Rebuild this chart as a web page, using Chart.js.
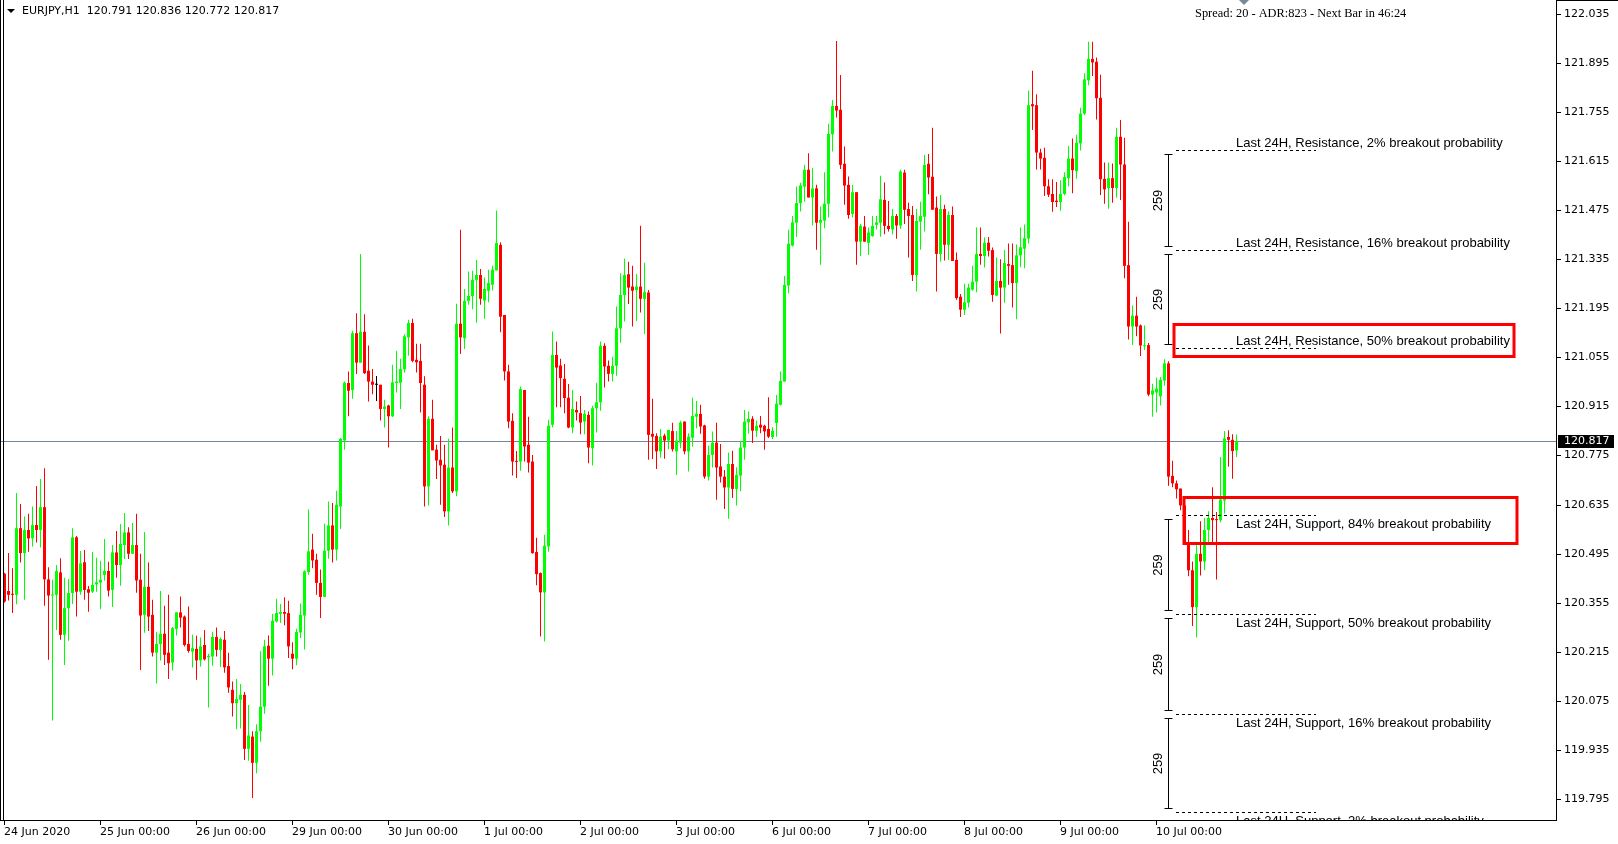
<!DOCTYPE html>
<html>
<head>
<meta charset="utf-8">
<script src="https://cdn.jsdelivr.net/npm/chart.js@4.4.1/dist/chart.umd.min.js"></script>
<style>
html,body{margin:0;padding:0;background:#fff;overflow:hidden}
canvas{display:block}
</style>
</head>
<body>
<canvas id="c" width="1618" height="844"></canvas>
<script>
// ---------------- data ----------------
const symbolTitle = 'EURJPY,H1';
const infoText = 'Spread: 20 - ADR:823 - Next Bar in 46:24';

const opens = [
120.439,120.390,120.382,120.379,120.569,120.498,120.564,120.540,120.578,120.564,
120.629,120.423,120.377,120.379,120.443,120.265,120.341,120.384,120.543,120.388,
120.472,120.395,120.388,120.409,120.414,120.436,120.447,120.393,120.500,120.464,
120.521,120.557,120.496,120.521,120.422,120.322,120.402,120.322,120.214,120.239,
120.268,120.214,120.186,120.282,120.329,120.317,120.239,120.217,120.225,120.192,
120.236,120.201,120.203,120.259,120.222,120.251,120.176,120.108,120.070,120.080,
120.094,119.940,119.975,119.900,119.990,120.060,120.234,120.197,120.303,120.325,
120.330,120.327,120.211,120.197,120.272,120.320,120.444,120.508,120.479,120.413,
120.373,120.505,120.577,120.508,120.631,120.819,120.983,120.963,121.125,121.041,
121.129,121.018,120.987,120.978,120.978,120.909,120.919,120.888,120.983,120.984,
121.022,121.113,121.154,121.049,121.046,120.978,120.688,120.881,120.793,120.764,
120.750,120.617,120.742,120.674,121.152,121.111,121.217,121.231,121.277,121.291,
121.218,121.246,121.263,121.304,121.377,121.177,121.016,120.875,120.761,120.759,
120.963,120.807,120.759,120.501,120.441,120.386,120.517,120.864,121.063,121.033,
120.995,120.941,120.856,120.906,120.897,120.873,120.892,120.797,120.911,120.928,
121.089,121.032,121.009,121.032,121.139,121.234,121.293,121.258,121.248,121.258,
121.223,121.241,120.838,120.832,120.788,120.833,120.819,120.846,120.788,120.813,
120.873,120.788,120.827,120.887,120.895,120.862,120.716,120.778,120.813,120.745,
120.716,120.685,120.752,120.681,120.719,120.799,120.871,120.881,120.847,120.864,
120.861,120.852,120.829,120.869,120.921,120.987,121.261,121.375,121.440,121.496,
121.543,121.591,121.512,121.538,121.440,121.446,121.494,121.692,121.773,121.762,
121.608,121.548,121.465,121.527,121.386,121.429,121.383,121.402,121.434,121.440,
121.505,121.431,121.421,121.459,121.432,121.583,121.479,121.462,121.291,121.443,
121.457,121.608,121.571,121.483,121.351,121.479,121.377,121.462,121.334,121.229,
121.192,121.212,121.249,121.272,121.351,121.345,121.383,121.362,121.232,121.274,
121.255,121.322,121.319,121.268,121.347,121.366,121.395,121.778,121.775,121.640,
121.625,121.544,121.522,121.503,121.499,121.522,121.567,121.623,121.587,121.666,
121.751,121.846,121.907,121.899,121.796,121.565,121.539,121.567,121.539,121.685,
121.606,121.319,121.144,121.175,121.147,121.088,121.091,120.950,120.956,120.945,
120.990,121.039,120.718,120.697,120.682,120.634,120.524,120.449,120.344,120.496,
120.474,120.564,120.598,120.595,120.592,120.648,120.829,120.821,120.791
];
const highs = [
120.442,120.498,120.455,120.669,120.638,120.602,120.610,120.631,120.689,120.709,
120.740,120.458,120.422,120.464,120.483,120.428,120.424,120.569,120.547,120.504,
120.507,120.404,120.501,120.485,120.476,120.538,120.473,120.521,120.561,120.581,
120.612,120.572,120.584,120.610,120.496,120.558,120.471,120.365,120.274,120.390,
120.348,120.379,120.287,120.329,120.374,120.320,120.346,120.265,120.262,120.257,
120.279,120.211,120.274,120.286,120.257,120.276,120.214,120.132,120.139,120.125,
120.102,120.065,119.990,120.010,120.218,120.251,120.263,120.325,120.368,120.353,
120.372,120.362,120.244,120.282,120.354,120.449,120.622,120.553,120.496,120.451,
120.582,120.645,120.641,120.676,120.826,120.987,121.016,121.132,121.182,121.351,
121.179,121.090,121.023,121.003,120.978,120.935,120.921,121.035,121.075,121.052,
121.122,121.163,121.166,121.095,121.095,121.002,120.888,120.935,120.807,120.832,
120.807,120.824,120.856,121.209,121.420,121.251,121.301,121.303,121.334,121.308,
121.284,121.306,121.317,121.475,121.384,121.177,121.035,120.897,120.789,120.973,
120.963,120.887,120.778,120.542,120.443,120.550,120.878,121.130,121.101,121.052,
121.037,120.980,120.963,120.930,120.946,120.906,120.902,120.918,120.984,121.101,
121.096,121.047,121.058,121.201,121.296,121.337,121.329,121.317,121.294,121.431,
121.326,121.248,120.938,120.840,120.852,120.838,120.849,120.870,120.846,120.875,
120.873,120.840,120.941,120.932,120.921,120.864,120.804,120.845,120.870,120.809,
120.735,120.785,120.790,120.743,120.818,120.906,120.902,120.888,120.876,120.889,
120.864,120.942,120.857,120.949,121.016,121.288,121.420,121.459,121.543,121.554,
121.605,121.638,121.597,121.548,121.486,121.584,121.722,121.790,121.958,121.861,
121.657,121.572,121.548,121.527,121.437,121.459,121.426,121.459,121.459,121.574,
121.555,121.502,121.479,121.465,121.591,121.591,121.497,121.488,121.479,121.500,
121.633,121.636,121.711,121.515,121.519,121.491,121.472,121.486,121.355,121.237,
121.266,121.266,121.317,121.426,121.426,121.398,121.399,121.369,121.341,121.336,
121.362,121.381,121.381,121.378,121.426,121.435,121.817,121.873,121.806,121.651,
121.654,121.564,121.564,121.556,121.561,121.584,121.659,121.680,121.691,121.768,
121.866,121.956,121.956,121.911,121.862,121.612,121.612,121.609,121.711,121.733,
121.682,121.443,121.204,121.229,121.150,121.147,121.097,120.981,120.998,121.000,
121.051,121.045,120.761,120.705,120.682,120.639,120.564,120.474,120.530,120.589,
120.598,120.617,120.686,120.615,120.772,120.846,120.848,120.837,120.836
];
const lows = [
120.357,120.363,120.327,120.352,120.471,120.365,120.502,120.517,120.528,120.514,
120.348,120.194,120.021,120.279,120.251,120.179,120.248,120.353,120.317,120.379,
120.365,120.331,120.384,120.388,120.338,120.419,120.374,120.344,120.428,120.405,
120.481,120.481,120.496,120.385,120.165,120.271,120.276,120.203,120.126,120.192,
120.179,120.139,120.163,120.263,120.286,120.232,120.214,120.172,120.137,120.175,
120.192,120.058,120.177,120.203,120.173,120.157,120.100,120.032,119.996,119.998,
119.908,119.906,119.800,119.870,119.960,120.040,120.120,120.149,120.300,120.299,
120.292,120.199,120.167,120.178,120.256,120.223,120.436,120.455,120.379,120.313,
120.373,120.482,120.471,120.477,120.567,120.793,120.888,120.938,121.009,121.041,
121.009,120.930,120.951,120.932,120.876,120.856,120.799,120.886,120.956,120.909,
121.013,121.061,121.042,121.013,120.899,120.631,120.634,120.791,120.709,120.636,
120.601,120.577,120.669,120.660,121.066,121.080,121.206,121.193,121.155,121.206,
121.166,121.213,121.247,121.304,121.128,120.990,120.854,120.719,120.712,120.733,
120.759,120.728,120.496,120.406,120.260,120.246,120.502,120.857,120.914,120.914,
120.897,120.854,120.840,120.876,120.837,120.837,120.754,120.748,120.842,120.904,
120.970,120.987,120.987,121.004,121.098,121.158,121.208,121.144,121.160,121.184,
121.123,120.764,120.766,120.738,120.770,120.767,120.794,120.788,120.721,120.797,
120.780,120.731,120.802,120.854,120.838,120.710,120.705,120.742,120.650,120.699,
120.624,120.596,120.655,120.634,120.674,120.764,120.838,120.812,120.829,120.840,
120.793,120.826,120.823,120.830,120.919,120.987,121.239,121.372,121.399,121.472,
121.500,121.512,121.432,121.363,121.320,121.424,121.455,121.643,121.740,121.593,
121.491,121.451,121.455,121.320,121.345,121.386,121.348,121.400,121.421,121.400,
121.407,121.415,121.407,121.394,121.422,121.436,121.341,121.274,121.244,121.363,
121.415,121.521,121.477,121.244,121.329,121.332,121.334,121.331,121.220,121.171,
121.177,121.198,121.246,121.242,121.320,121.312,121.344,121.215,121.232,121.124,
121.212,121.263,121.198,121.165,121.313,121.310,121.381,121.704,121.592,121.592,
121.516,121.513,121.471,121.485,121.474,121.518,121.544,121.524,121.565,121.646,
121.747,121.832,121.858,121.734,121.519,121.494,121.480,121.497,121.511,121.505,
121.282,121.107,121.091,121.116,121.060,121.077,120.945,120.887,120.899,120.919,
120.975,120.690,120.686,120.654,120.620,120.521,120.432,120.290,120.257,120.434,
120.449,120.524,120.528,120.423,120.586,120.611,120.744,120.710,120.772
];
const closes = [
120.360,120.379,120.379,120.569,120.498,120.564,120.540,120.578,120.564,120.629,
120.423,120.377,120.379,120.447,120.265,120.341,120.384,120.543,120.388,120.469,
120.393,120.385,120.407,120.415,120.422,120.447,120.391,120.500,120.464,120.524,
120.557,120.496,120.521,120.420,120.320,120.402,120.317,120.214,120.239,120.268,
120.208,120.184,120.284,120.329,120.314,120.236,120.219,120.227,120.192,120.232,
120.195,120.205,120.259,120.222,120.253,120.172,120.115,120.070,120.082,120.094,
119.940,119.978,119.900,119.990,120.060,120.232,120.197,120.305,120.327,120.330,
120.325,120.232,120.197,120.273,120.322,120.446,120.503,120.477,120.413,120.373,
120.505,120.577,120.508,120.636,120.824,120.984,120.961,121.125,121.041,121.129,
121.011,120.987,120.978,120.978,120.909,120.916,120.888,120.985,120.987,121.023,
121.116,121.154,121.046,121.042,120.983,120.688,120.881,120.791,120.762,120.748,
120.617,120.742,120.674,121.152,121.113,121.217,121.231,121.277,121.291,121.223,
121.251,121.268,121.306,121.382,121.172,121.016,120.873,120.759,120.758,120.966,
120.802,120.756,120.498,120.438,120.386,120.519,120.861,121.063,121.027,120.997,
120.940,120.856,120.909,120.899,120.870,120.895,120.799,120.911,120.928,121.089,
121.030,121.009,121.032,121.139,121.234,121.291,121.255,121.246,121.258,121.223,
121.242,120.835,120.830,120.788,120.830,120.819,120.849,120.794,120.819,120.870,
120.788,120.830,120.889,120.895,120.859,120.716,120.778,120.813,120.742,120.716,
120.685,120.752,120.681,120.721,120.799,120.873,120.881,120.847,120.861,120.856,
120.845,120.830,120.847,120.924,120.989,121.263,121.380,121.441,121.496,121.546,
121.591,121.512,121.538,121.440,121.448,121.494,121.693,121.773,121.760,121.605,
121.546,121.462,121.527,121.386,121.431,121.386,121.412,121.431,121.441,121.507,
121.431,121.422,121.459,121.432,121.586,121.477,121.459,121.291,121.445,121.459,
121.605,121.569,121.477,121.351,121.479,121.377,121.462,121.331,121.225,121.192,
121.213,121.255,121.272,121.351,121.345,121.383,121.360,121.234,121.274,121.255,
121.325,121.317,121.268,121.347,121.370,121.396,121.775,121.772,121.640,121.623,
121.544,121.520,121.499,121.499,121.522,121.570,121.623,121.590,121.668,121.751,
121.849,121.907,121.897,121.795,121.564,121.535,121.567,121.539,121.685,121.606,
121.317,121.144,121.175,121.144,121.090,121.091,120.950,120.962,120.967,120.992,
121.039,120.716,120.697,120.680,120.634,120.524,120.449,120.344,120.496,120.474,
120.564,120.598,120.592,120.592,120.651,120.825,120.821,120.789,120.817
];

// time axis: bar index of each day start and its label
const dayTickBars = [0, 24, 48, 72, 96, 120, 144, 168, 192, 216, 240, 264, 288];
const dayTickLabels = ['24 Jun 2020','25 Jun 00:00','26 Jun 00:00','29 Jun 00:00','30 Jun 00:00',
  '1 Jul 00:00','2 Jul 00:00','3 Jul 00:00','6 Jul 00:00','7 Jul 00:00','8 Jul 00:00','9 Jul 00:00','10 Jul 00:00'];

// price axis ticks
const priceTicks = [119.795,119.935,120.075,120.215,120.355,120.495,120.635,120.775,
  120.915,121.055,121.195,121.335,121.475,121.615,121.755,121.895,122.035];
const priceMin = 119.737, priceMax = 122.075;
const lastPrice = 120.817;

// breakout-probability levels
const levelPrices = [121.645, 121.362, 121.082, 120.604, 120.322, 120.039, 119.758];
const levelKinds  = ['R', 'R', 'R', 'S', 'S', 'S', 'S'];
const levelLabels = [
  'Last 24H, Resistance, 2% breakout probability',
  'Last 24H, Resistance, 16% breakout probability',
  'Last 24H, Resistance, 50% breakout probability',
  'Last 24H, Support, 84% breakout probability',
  'Last 24H, Support, 50% breakout probability',
  'Last 24H, Support, 16% breakout probability',
  'Last 24H, Support, 2% breakout probability'
];
const rangeLabel = '259';
const boxedLevels = [2, 3];

// ---------------- chart ----------------
const UP = '#00ff00', DOWN = '#ff0000', DOJI = '#000000';
const idx = opens.map((_, i) => i);
const colors = idx.map(i => closes[i] > opens[i] ? UP : (closes[i] < opens[i] ? DOWN : DOJI));

// anchors for the level drawings, in bar units
const levelLineFromBar = 292.875, levelLineToBar = 327.875, levelTextBar = 307.875, bracketBar = 291.0;

const mt4Plugin = {
  id: 'mt4',
  beforeDatasetsDraw(chart) {
    const {ctx, chartArea: a, scales: {y}} = chart;
    const py = Math.floor(y.getPixelForValue(lastPrice)) + 0.5;
    ctx.save();
    ctx.strokeStyle = '#778899';
    ctx.lineWidth = 1;
    ctx.beginPath(); ctx.moveTo(a.left, py); ctx.lineTo(a.right, py); ctx.stroke();
    ctx.restore();
  },
  afterDatasetsDraw(chart) {
    const {ctx, chartArea: a, scales: {x, y}} = chart;
    ctx.save();
    ctx.beginPath(); ctx.rect(a.left, a.top, a.right - a.left, a.bottom - a.top); ctx.clip();
    const x0 = Math.floor(x.getPixelForValue(levelLineFromBar));
    const x1 = Math.floor(x.getPixelForValue(levelLineToBar));
    const xt = Math.floor(x.getPixelForValue(levelTextBar));
    const xb = Math.floor(x.getPixelForValue(bracketBar)) + 0.5;
    const pys = levelPrices.map(p => Math.floor(y.getPixelForValue(p)) + 0.5);

    ctx.strokeStyle = '#000'; ctx.lineWidth = 1;
    ctx.setLineDash([3, 3]);
    pys.forEach(py => { ctx.beginPath(); ctx.moveTo(x0, py); ctx.lineTo(x1, py); ctx.stroke(); });
    ctx.setLineDash([]);

    for (let k = 0; k < pys.length - 1; k++) {
      if (levelKinds[k] !== levelKinds[k + 1]) continue;
      const t = pys[k] + 4, b = pys[k + 1] - 4;
      ctx.beginPath();
      ctx.moveTo(xb, t); ctx.lineTo(xb, b);
      ctx.moveTo(xb - 4, t); ctx.lineTo(xb + 4, t);
      ctx.moveTo(xb - 4, b); ctx.lineTo(xb + 4, b);
      ctx.stroke();
      ctx.save();
      ctx.translate(xb - 10, (t + b) / 2);
      ctx.rotate(-Math.PI / 2);
      ctx.font = '13px "Liberation Sans", Arial, sans-serif';
      ctx.textAlign = 'center'; ctx.textBaseline = 'middle'; ctx.fillStyle = '#000';
      ctx.fillText(rangeLabel, 0, 0);
      ctx.restore();
    }

    ctx.font = '13px "Liberation Sans", Arial, sans-serif';
    ctx.textAlign = 'left'; ctx.textBaseline = 'middle'; ctx.fillStyle = '#000';
    levelLabels.forEach((txt, k) => {
      const ty = levelKinds[k] === 'R' ? pys[k] - 7.5 : pys[k] + 8.5;
      ctx.fillText(txt, xt, ty);
    });

    ctx.strokeStyle = '#ff0000'; ctx.lineWidth = 3;
    boxedLevels.forEach(k => {
      const py = pys[k];
      if (levelKinds[k] === 'R') ctx.strokeRect(xt - 62, py - 24, 340, 32);
      else ctx.strokeRect(xt - 52, py - 18, 333, 46);
    });
    ctx.restore();
  },
  afterDraw(chart) {
    const {ctx, chartArea: a, scales: {x, y}} = chart;
    const W = chart.width;
    ctx.save();
    ctx.fillStyle = '#000';
    ctx.fillRect(0, a.bottom, a.right + 1, 1);
    ctx.fillRect(a.right, 0, 1, a.bottom + 1);
    ctx.fillRect(0, 0, 1, a.bottom + 1);
    ctx.fillRect(3, 0, 1, a.bottom + 1);
    ctx.fillRect(a.right, 0, W - a.right, 1);

    ctx.font = '11px "DejaVu Sans", sans-serif';
    ctx.textAlign = 'left'; ctx.textBaseline = 'middle';
    priceTicks.forEach(p => {
      const py = Math.floor(y.getPixelForValue(p));
      ctx.fillRect(a.right + 1, py, 4, 1);
      ctx.fillText(p.toFixed(3), a.right + 8, py + 0.5);
    });
    dayTickBars.forEach((b, k) => {
      const px = Math.floor(x.getPixelForValue(b));
      ctx.fillRect(px, a.bottom + 1, 1, 4);
      ctx.fillText(dayTickLabels[k], px, a.bottom + 12.5);
    });

    // last price tag
    const lp = Math.floor(y.getPixelForValue(lastPrice));
    ctx.fillRect(a.right + 2, lp - 6, 56, 13);
    ctx.fillStyle = '#fff';
    ctx.fillText(lastPrice.toFixed(3), a.right + 8, lp + 0.5);

    // header
    const n = opens.length - 1;
    ctx.fillStyle = '#000';
    ctx.beginPath(); ctx.moveTo(7, 9); ctx.lineTo(15, 9); ctx.lineTo(11, 13); ctx.closePath(); ctx.fill();
    ctx.fillText(symbolTitle + '  ' + [opens[n], highs[n], lows[n], closes[n]].map(v => v.toFixed(3)).join(' '), 22, 11.5);

    ctx.font = '12.4px "Liberation Serif", "Times New Roman", serif';
    ctx.fillText(infoText, 1195, 14);

    ctx.fillStyle = '#778899';
    ctx.beginPath(); ctx.moveTo(1239, 0); ctx.lineTo(1249, 0); ctx.lineTo(1244, 5); ctx.closePath(); ctx.fill();
    ctx.restore();
  }
};

new Chart(document.getElementById('c'), {
  type: 'bar',
  data: {
    datasets: [
      {
        label: 'wick',
        data: idx.map(i => ({x: i, y: [lows[i], highs[i]]})),
        backgroundColor: colors,
        borderWidth: 0,
        barThickness: 1,
        grouped: false,
        inflateAmount: 0,
        order: 2
      },
      {
        label: 'body',
        data: idx.map(i => ({x: i, y: [opens[i], closes[i]]})),
        backgroundColor: colors,
        borderWidth: 0,
        barThickness: 3,
        minBarLength: 1,
        grouped: false,
        inflateAmount: 0,
        order: 1
      }
    ]
  },
  options: {
    responsive: false,
    devicePixelRatio: 1,
    animation: false,
    events: [],
    layout: {padding: {left: 0, top: 0, right: 62, bottom: 24}},
    plugins: {legend: {display: false}, tooltip: {enabled: false}, title: {display: false}},
    scales: {
      x: {type: 'linear', min: -1.125, max: 387.875, offset: false, display: false, grid: {display: false}},
      y: {type: 'linear', min: priceMin, max: priceMax, display: false, grid: {display: false}}
    }
  },
  plugins: [mt4Plugin]
});
</script>
</body>
</html>
